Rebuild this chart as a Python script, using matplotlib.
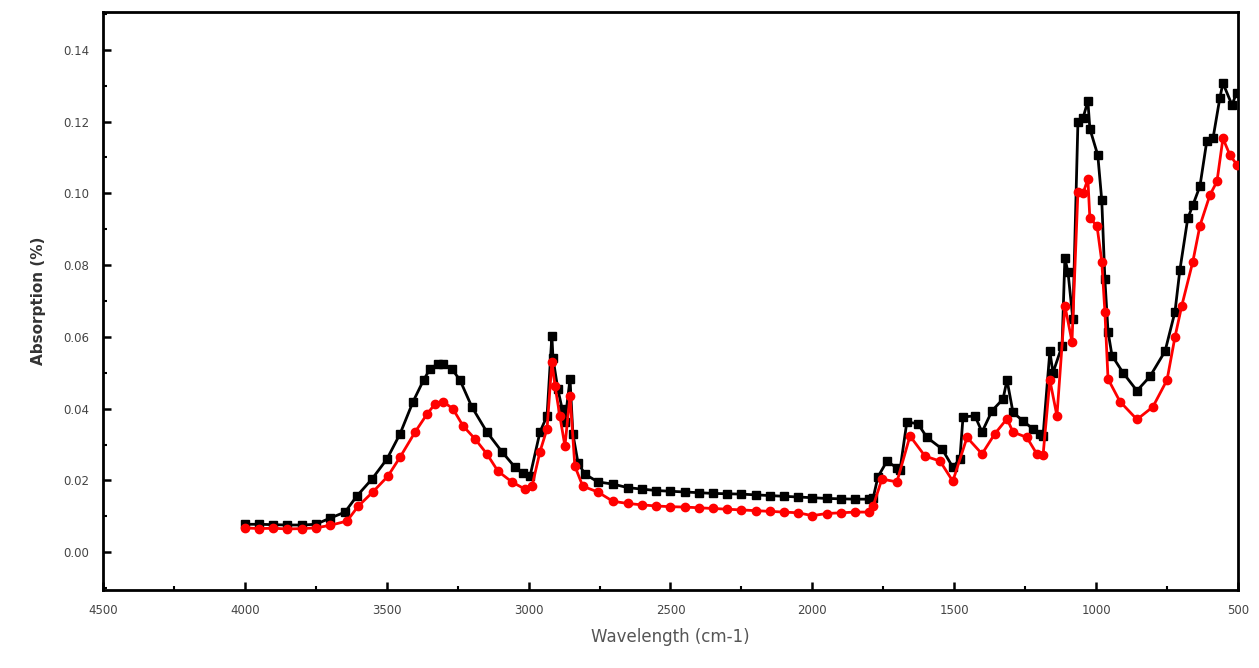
import matplotlib.pyplot as plt
from matplotlib.ticker import MultipleLocator, FormatStrFormatter

# Espectro FTIR (numero de onda en cm-1, absorcion)
wn_negro = [4000, 3950, 3900, 3850, 3800, 3750, 3700, 3647, 3605, 3552,
            3499, 3453, 3407, 3370, 3348, 3320, 3302, 3270, 3242, 3200,
            3147, 3094, 3048, 3020, 2995, 2960, 2935, 2918, 2914, 2897,
            2882, 2872, 2854, 2844, 2826, 2802, 2756, 2703, 2650, 2600,
            2550, 2500, 2450, 2400, 2350, 2300, 2250, 2200, 2150, 2100,
            2050, 2000, 1950, 1900, 1850, 1800, 1786, 1769, 1737, 1702,
            1691, 1667, 1628, 1596, 1543, 1505, 1480, 1469, 1427, 1402,
            1367, 1328, 1314, 1293, 1258, 1223, 1198, 1187, 1163, 1152,
            1120, 1110, 1099, 1082, 1064, 1046, 1029, 1022, 994, 980,
            969, 958, 944, 905, 856, 810, 757, 722, 705, 677,
            659, 634, 610, 588, 564, 553, 521, 505]
abs_negro = [0.0078, 0.0078, 0.0077, 0.0076, 0.0076, 0.0078, 0.0095, 0.0112, 0.0157, 0.0204,
             0.0260, 0.0330, 0.0420, 0.0480, 0.0510, 0.0525, 0.0525, 0.0510, 0.0480, 0.0405,
             0.0335, 0.0280, 0.0237, 0.0220, 0.0212, 0.0335, 0.0380, 0.0603, 0.0540, 0.0455,
             0.0400, 0.0363, 0.0483, 0.0330, 0.0250, 0.0218, 0.0196, 0.0190, 0.0180, 0.0176,
             0.0172, 0.0170, 0.0168, 0.0166, 0.0164, 0.0163, 0.0162, 0.0160, 0.0158, 0.0156,
             0.0154, 0.0152, 0.0150, 0.0149, 0.0148, 0.0148, 0.0150, 0.0210, 0.0254, 0.0235,
             0.0230, 0.0363, 0.0358, 0.0320, 0.0288, 0.0237, 0.0260, 0.0377, 0.0380, 0.0335,
             0.0394, 0.0427, 0.0480, 0.0390, 0.0366, 0.0344, 0.0330, 0.0324, 0.0560, 0.0500,
             0.0575, 0.0820, 0.0780, 0.0650, 0.1200, 0.1210, 0.1257, 0.1180, 0.1106, 0.0980,
             0.0760, 0.0615, 0.0548, 0.0500, 0.0450, 0.0490, 0.0560, 0.0670, 0.0785, 0.0930,
             0.0967, 0.1020, 0.1145, 0.1153, 0.1265, 0.1307, 0.1246, 0.1280]

wn_rojo = [4000, 3950, 3900, 3850, 3800, 3750, 3700, 3640, 3601, 3549,
           3496, 3453, 3400, 3358, 3330, 3302, 3267, 3231, 3189, 3147,
           3108, 3059, 3013, 2988, 2960, 2935, 2918, 2907, 2890, 2872,
           2854, 2837, 2809, 2756, 2703, 2650, 2600, 2550, 2500, 2450,
           2400, 2350, 2300, 2250, 2200, 2150, 2100, 2050, 2000, 1950,
           1900, 1850, 1800, 1786, 1755, 1702, 1656, 1603, 1550, 1505,
           1455, 1402, 1357, 1314, 1293, 1244, 1209, 1187, 1163, 1138,
           1110, 1085, 1064, 1046, 1029, 1022, 997, 980, 969, 958,
           916, 856, 800, 750, 722, 698, 659, 634, 599, 574,
           553, 528, 504]
abs_rojo = [0.0068, 0.0066, 0.0067, 0.0065, 0.0066, 0.0068, 0.0075, 0.0087, 0.0128, 0.0168,
            0.0212, 0.0265, 0.0335, 0.0385, 0.0413, 0.0420, 0.0400, 0.0352, 0.0316, 0.0274,
            0.0226, 0.0196, 0.0176, 0.0184, 0.0280, 0.0344, 0.0530, 0.0464, 0.0380, 0.0296,
            0.0436, 0.0240, 0.0184, 0.0168, 0.0142, 0.0136, 0.0132, 0.0129, 0.0127, 0.0126,
            0.0124, 0.0122, 0.0120, 0.0118, 0.0116, 0.0114, 0.0112, 0.0110, 0.0102, 0.0108,
            0.0110, 0.0112, 0.0112, 0.0128, 0.0204, 0.0196, 0.0324, 0.0268, 0.0254, 0.0198,
            0.0320, 0.0274, 0.0330, 0.0372, 0.0335, 0.0320, 0.0274, 0.0270, 0.0480, 0.0380,
            0.0687, 0.0587, 0.1005, 0.1000, 0.1040, 0.0930, 0.0910, 0.0810, 0.0670, 0.0483,
            0.0420, 0.0370, 0.0405, 0.0480, 0.0600, 0.0687, 0.0810, 0.0910, 0.0995, 0.1033,
            0.1153, 0.1106, 0.1080]

fig = plt.figure(figsize=(12.59, 6.68), dpi=100)
ax = fig.add_axes([0.0818, 0.1168, 0.9015, 0.8652])

ax.plot(wn_negro, abs_negro, color="black", linewidth=2, marker="s",
        markersize=6, zorder=3)
ax.plot(wn_rojo, abs_rojo, color="red", linewidth=2, marker="o",
        markersize=6, zorder=4)

ax.set_xlim(4500, 500)
ax.set_ylim(-0.0105, 0.1505)

ax.xaxis.set_major_locator(MultipleLocator(500))
ax.xaxis.set_minor_locator(MultipleLocator(250))
ax.yaxis.set_minor_locator(MultipleLocator(0.01))
ax.set_yticks([0.00, 0.02, 0.04, 0.06, 0.08, 0.10, 0.12, 0.14])
ax.yaxis.set_major_formatter(FormatStrFormatter("%.2f"))

ax.tick_params(which="major", direction="in", length=6, width=1.8,
               labelsize=8.5, labelcolor="#444444", pad=10)
ax.tick_params(which="minor", direction="in", length=3, width=1.5)
ax.tick_params(top=False, right=False, which="both")

for lado in ax.spines.values():
    lado.set_linewidth(2)

ax.set_xlabel("Wavelength (cm-1)", fontsize=12, color="#555555", labelpad=8)
ax.set_ylabel("Absorption (%)", fontsize=11, color="#333333",
              fontweight="bold", labelpad=12)

plt.savefig("out.png", dpi=100)
